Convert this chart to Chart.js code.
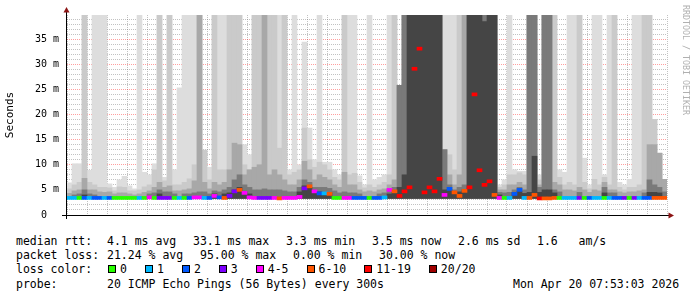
<!DOCTYPE html>
<html>
<head>
<meta charset="utf-8">
<script src="https://cdn.jsdelivr.net/npm/chart.js@4.4.1/dist/chart.umd.min.js"></script>
<style>
html,body{margin:0;padding:0;background:#fff;}
#wrap{position:relative;width:697px;height:297px;overflow:hidden;
  font-family:"DejaVu Sans Mono",monospace;font-size:11.5px;color:#000;}
#chart{position:absolute;left:0;top:0;}
.ln{position:absolute;left:0;height:14px;line-height:14px;white-space:pre;}
.ln > span{position:absolute;top:0;}
#lossItems{position:absolute;left:108px;top:0;height:14px;display:flex;align-items:center;}
.item{display:flex;align-items:center;margin-right:18px;}
.box{display:block;width:6px;height:6px;border:1px solid #000;margin-right:4px;}
#mark{position:absolute;left:681px;top:5px;writing-mode:vertical-rl;
  font-size:8.3px;line-height:9px;color:#b0b0b0;white-space:nowrap;}
</style>
</head>
<body>
<div id="wrap">
  <canvas id="chart" width="697" height="232"></canvas>
  <div id="mark">RRDTOOL / TOBI OETIKER</div>

  <div class="ln" style="top:234px">
    <span style="left:16px">median rtt:</span>
    <span style="left:107px">4.1 ms avg</span>
    <span style="left:193px">33.1 ms max</span>
    <span style="left:286px">3.3 ms min</span>
    <span style="left:372px">3.5 ms now</span>
    <span style="left:458px">2.6 ms sd</span>
    <span style="left:537px">1.6   am/s</span>
  </div>
  <div class="ln" style="top:248px">
    <span style="left:16px">packet loss:</span>
    <span style="left:107px">21.24 % avg</span>
    <span style="left:200px">95.00 % max</span>
    <span style="left:293px">0.00 % min</span>
    <span style="left:379px">30.00 % now</span>
  </div>
  <div class="ln" style="top:262px">
    <span style="left:16px">loss color:</span>
    <div id="lossItems"></div>
  </div>
  <div class="ln" style="top:277px">
    <span style="left:16px">probe:</span>
    <span style="left:107px">20 ICMP Echo Pings (56 Bytes) every 300s</span>
    <span style="left:513px">Mon Apr 20 07:53:03 2026</span>
  </div>
</div>

<script>
/* ==========================================
   DATA (15 min bins, hours since Sun 00:00)
========================================== */
const START_HOUR = 1.925;
const STEP_HOUR = 0.25;
const SMOKE_LOW = 3.3;

// smoke bands, outer (lightest) to inner (darkest): top of each band in ms
const smoke1 = [
  6.4,10.2,10.2,40,8.9,40,40,40,6.2,5.5,
  7,7.7,5.8,5.2,40,8.5,8,10.2,40,7.5,
  40,9,25.3,40,40,40,40,12.9,9.5,40,
  40,40,40,40,40,14,12,40,40,40,
  40,40,40,40,9,40,10,34.4,17.3,11,
  40,10.5,10.5,9,8,40,40,40,7.8,6,
  40,7,7.5,8,40,40,25.8,40,40,40,
  40,40,40,40,40,40,40,40,40,40,
  40,40,40,40,40,40,6,7,40,9,
  8.7,8.7,40,40,8,40,40,40,9,8.5,
  40,40,40,11.3,6,40,40,8,40,40,
  6.5,6,7.1,40,40,40,40,19,12.3,7.1
];
const smoke2 = [
  5.2,6,6.5,40,6.5,6,5.5,5.5,5.4,4.8,
  5.6,5.5,4.8,4.8,5,5.6,6,9,40,6.8,
  40,6,6,6.5,7.2,10,40,12.9,7,40,
  9,9,40,40,40,10,9,40,40,40,
  40,40,13.3,40,8,8.5,9,17.3,11,9.5,
  10.5,10,9,7.5,7,40,8,8.3,6.5,5.4,
  6,5.5,6,6.5,8,40,25.8,40,40,40,
  40,40,40,40,40,13,12,9,40,40,
  40,40,40,40,40,40,5.5,6,8,8,
  8.4,8,40,40,7,40,40,40,7.5,6,
  6.5,6,40,6.5,5.2,7.1,6,7.5,6,40,
  5.5,5,5.5,5.5,6,40,40,19,12.3,7.1
];
const smoke3 = [
  4.3,4.8,5,7.3,5,5,4.6,4.5,4.6,4.2,
  4.4,4.4,4.2,4,4.2,4.5,4.8,5.5,6.5,5.5,
  5.8,4.8,4.8,5,5.2,6.8,40,6.5,5.2,6.5,
  6,6.5,9,14.3,14,8,9,9.5,10,40,
  8,9,8,7,6,6,7,10.7,9,7,
  8,7.5,7,6,5.5,8.5,6,6,5,4.6,
  4.8,4.6,5,5.2,6,7,25.8,40,40,40,
  40,40,40,40,40,13,8,6,8,40,
  40,40,40,40,40,40,5,5,6,6,
  6.5,6,40,40,6,40,40,6.5,6,5,
  5,4.8,5.5,5,4.5,5,4.8,6.5,5,5,
  4.6,4.4,4.6,4.6,4.8,5,14,14,12.3,7.1
];
const smoke4 = [
  0,4,4.2,5,4.2,4,0,0,0,0,
  0,0,0,0,0,0,4.2,4.4,5,4.6,
  4.6,4.2,0,4.2,4.2,4.4,4.6,4.6,4.2,4.8,
  4.6,5,5.5,7,8,6,5.5,5,5,5.2,
  5,5,5,4.8,4.6,4.6,5.5,7,6.5,5.5,
  5.5,5.5,5.3,4.8,4.4,4.6,4.4,4.4,4.2,0,
  0,0,4.2,4.4,5,5.5,25.8,40,40,40,
  40,40,40,40,40,13,6,5,5.5,6,
  40,40,40,40,40,40,4.5,4.4,4.5,5,
  5.5,5,40,40,5.5,40,40,5,4.6,0,
  0,0,4.5,0,0,0,0,5.5,4.4,4.4,
  0,0,0,0,0,4.4,7,6,5.5,4.6
];
const smoke5 = [
  0,0,0,4,0,0,0,0,0,0,
  0,0,0,0,0,0,0,0,4.2,0,
  0,0,0,0,0,0,0,0,0,4.2,
  0,4.2,4.4,5,5.5,4.6,4.2,0,0,0,
  0,0,0,0,0,0,4.6,5.8,5.5,4.6,
  4.6,4.5,4.4,0,0,0,0,0,0,0,
  0,0,0,0,4.2,4.5,5.5,8,40,40,
  40,40,40,40,40,5,5,4.4,4.6,5,
  40,40,40,38.5,40,40,4,0,0,4.5,
  4.7,4.3,4.5,11.7,4.5,5,5,4.4,0,0,
  0,0,0,0,0,0,0,4.4,0,0,
  0,0,0,0,0,0,4.5,4.5,4.4,0
];

// median rtt in ms
const medianRtt = [
  3.4,3.4,3.4,3.4,3.4,3.4,3.4,3.4,3.4,3.4,
  3.4,3.4,3.4,3.4,3.4,3.4,3.5,3.4,3.4,3.4,
  3.4,3.4,3.4,3.4,3.4,3.5,3.5,3.4,3.4,3.8,
  3.5,3.4,3.8,4.7,5.0,4.4,3.5,3.4,3.4,3.4,
  3.4,3.4,3.3,3.4,3.4,3.4,3.6,5.3,5.7,4.7,
  4.3,4.3,4.2,3.4,3.4,3.4,3.4,3.4,3.4,3.4,
  3.4,3.4,3.4,3.5,5.0,4.7,3.8,4.7,5.5,29.1,
  33.1,4.5,5.5,4.7,7.2,4.0,5.2,4.5,3.8,4.8,
  5.5,24.0,8.9,6.0,6.7,4.0,3.4,3.4,3.4,4.2,
  5.0,3.4,3.4,4.0,3.3,3.3,3.3,3.4,3.4,3.4,
  3.4,3.4,3.4,3.4,3.4,3.4,3.4,3.4,3.4,3.4,
  3.4,3.4,3.4,3.4,3.4,3.4,3.4,3.4,3.4,3.4
];

// lost pings out of 20
const lossCount = [
  1,1,0,2,1,2,2,1,2,0,
  0,0,0,0,1,0,4,0,3,3,
  3,0,1,0,2,4,4,1,2,4,
  2,6,3,3,6,4,4,4,3,3,
  3,4,6,4,4,4,4,3,6,4,
  2,1,6,0,0,4,4,2,2,2,
  0,2,2,1,4,6,12,12,13,14,
  15,14,12,13,12,4,2,6,6,8,
  13,14,12,13,12,7,4,0,1,2,
  2,1,6,7,12,7,7,7,0,1,
  1,1,3,0,2,1,1,0,1,2,
  2,3,0,3,1,2,2,7,7,6
];

const lossLabels = ["0","1","2","3","4-5","6-10","11-19","20/20"];
const lossUpper  = [0,1,2,3,5,10,19,20];
const lossColors = ["#26ff00","#00b8ff","#0059ff","#7e00ff","#ff00ff","#ff5500","#ff0000","#a00000"];

const smokeColors = ["#dddddd","#cacaca","#a8a8a8","#7a7a7a","#454545"];

const xTickHours  = [6,12,18,24,30];
const xTickLabels = ["Sun 06:00","Sun 12:00","Sun 18:00","Mon 00:00","Mon 06:00"];
const yTickLabels = ["0  ","5 m","10 m","15 m","20 m","25 m","30 m","35 m"];

/* ==========================================
   HELPERS
========================================== */
const times = medianRtt.map((v,i)=>START_HOUR + STEP_HOUR*(i+0.5));

function lossColor(n){
  for(let k=0;k<lossUpper.length;k++){
    if(n<=lossUpper[k]) return lossColors[k];
  }
  return lossColors[lossColors.length-1];
}

function smokeSet(tops, color, order){
  const data = [];
  tops.forEach((top,i)=>{
    if(top>SMOKE_LOW){
      data.push({x:times[i], y:[SMOKE_LOW, top]});
    }
  });
  return {
    data,
    backgroundColor:color,
    borderWidth:0,
    grouped:false,
    barPercentage:1,
    categoryPercentage:1,
    order
  };
}

/* ==========================================
   LEGEND LINE (loss colours)
========================================== */
const itemsBox = document.getElementById("lossItems");
lossLabels.forEach((lab,i)=>{
  const it = document.createElement("div");
  it.className = "item";
  const b = document.createElement("div");
  b.className = "box";
  b.style.background = lossColors[i];
  const t = document.createElement("div");
  t.textContent = lab;
  it.appendChild(b);
  it.appendChild(t);
  itemsBox.appendChild(it);
});

/* ==========================================
   AXES + ARROWS
========================================== */
const axisArrows = {
  id:"axisArrows",
  afterDraw(chart){
    const {ctx, chartArea:a} = chart;
    ctx.save();
    ctx.strokeStyle = "#000";
    ctx.lineWidth = 1;
    ctx.beginPath();
    ctx.moveTo(a.left-5, a.bottom+0.5);
    ctx.lineTo(a.right+3, a.bottom+0.5);
    ctx.moveTo(a.left-0.5, a.bottom+4);
    ctx.lineTo(a.left-0.5, a.top-4);
    ctx.stroke();
    ctx.fillStyle = "#8c1414";
    ctx.beginPath();
    ctx.moveTo(a.left-0.5, a.top-8);
    ctx.lineTo(a.left-3.5, a.top-2.5);
    ctx.lineTo(a.left+2.5, a.top-2.5);
    ctx.closePath();
    ctx.fill();
    ctx.beginPath();
    ctx.moveTo(a.right+7, a.bottom+0.5);
    ctx.lineTo(a.right+1.5, a.bottom-2.5);
    ctx.lineTo(a.right+1.5, a.bottom+3.5);
    ctx.closePath();
    ctx.fill();
    ctx.restore();
  }
};

/* ==========================================
   CHART
========================================== */
Chart.defaults.font.family = "'DejaVu Sans Mono', monospace";
Chart.defaults.font.size = 10;
Chart.defaults.color = "#000";

const MAJOR = "rgba(255,0,0,0.38)";
const MINOR = "rgba(120,120,120,0.45)";

new Chart(document.getElementById("chart"),{
  type:"bar",
  data:{
    datasets:[
      smokeSet(smoke1, smokeColors[0], 6),
      smokeSet(smoke2, smokeColors[1], 5),
      smokeSet(smoke3, smokeColors[2], 4),
      smokeSet(smoke4, smokeColors[3], 3),
      smokeSet(smoke5, smokeColors[4], 2),
      {
        data:medianRtt.map((m,i)=>({x:times[i], y:[m-0.3, m+0.3]})),
        backgroundColor:lossCount.map(lossColor),
        borderWidth:0,
        grouped:false,
        barPercentage:1,
        categoryPercentage:1,
        order:0
      }
    ]
  },
  options:{
    responsive:false,
    animation:false,
    devicePixelRatio:1,
    events:[],
    layout:{padding:{left:0,right:30,top:15,bottom:0}},
    plugins:{legend:{display:false},tooltip:{enabled:false}},
    scales:{
      x:{
        type:"linear",
        min:START_HOUR,
        max:START_HOUR + STEP_HOUR*medianRtt.length,
        offset:false,
        z:1,
        afterFit(s){ s.height = 17; },
        grid:{
          offset:false,
          drawTicks:false,
          lineWidth:1,
          color:c=>(c.tick && c.tick.value%3===0) ? MAJOR : MINOR
        },
        border:{display:false, dash:[1,1]},
        ticks:{
          stepSize:1,
          includeBounds:false,
          autoSkip:false,
          maxRotation:0,
          padding:4,
          font:{size:10},
          callback:v=>{
            const k = xTickHours.indexOf(v);
            return k>=0 ? xTickLabels[k] : "";
          }
        }
      },
      y:{
        min:0,
        max:39.8,
        z:1,
        afterFit(s){ s.width = 67; },
        grid:{
          drawTicks:false,
          lineWidth:1,
          color:c=>(c.tick && c.tick.value%5===0) ? MAJOR : MINOR
        },
        border:{display:false, dash:[1,1]},
        title:{
          display:true,
          text:"Seconds",
          font:{size:11},
          padding:{top:4,bottom:0}
        },
        ticks:{
          stepSize:1,
          includeBounds:false,
          autoSkip:false,
          padding:8,
          font:{size:10},
          callback:v=>(v%5===0) ? yTickLabels[v/5] : ""
        }
      }
    }
  },
  plugins:[axisArrows]
});
</script>
</body>
</html>
